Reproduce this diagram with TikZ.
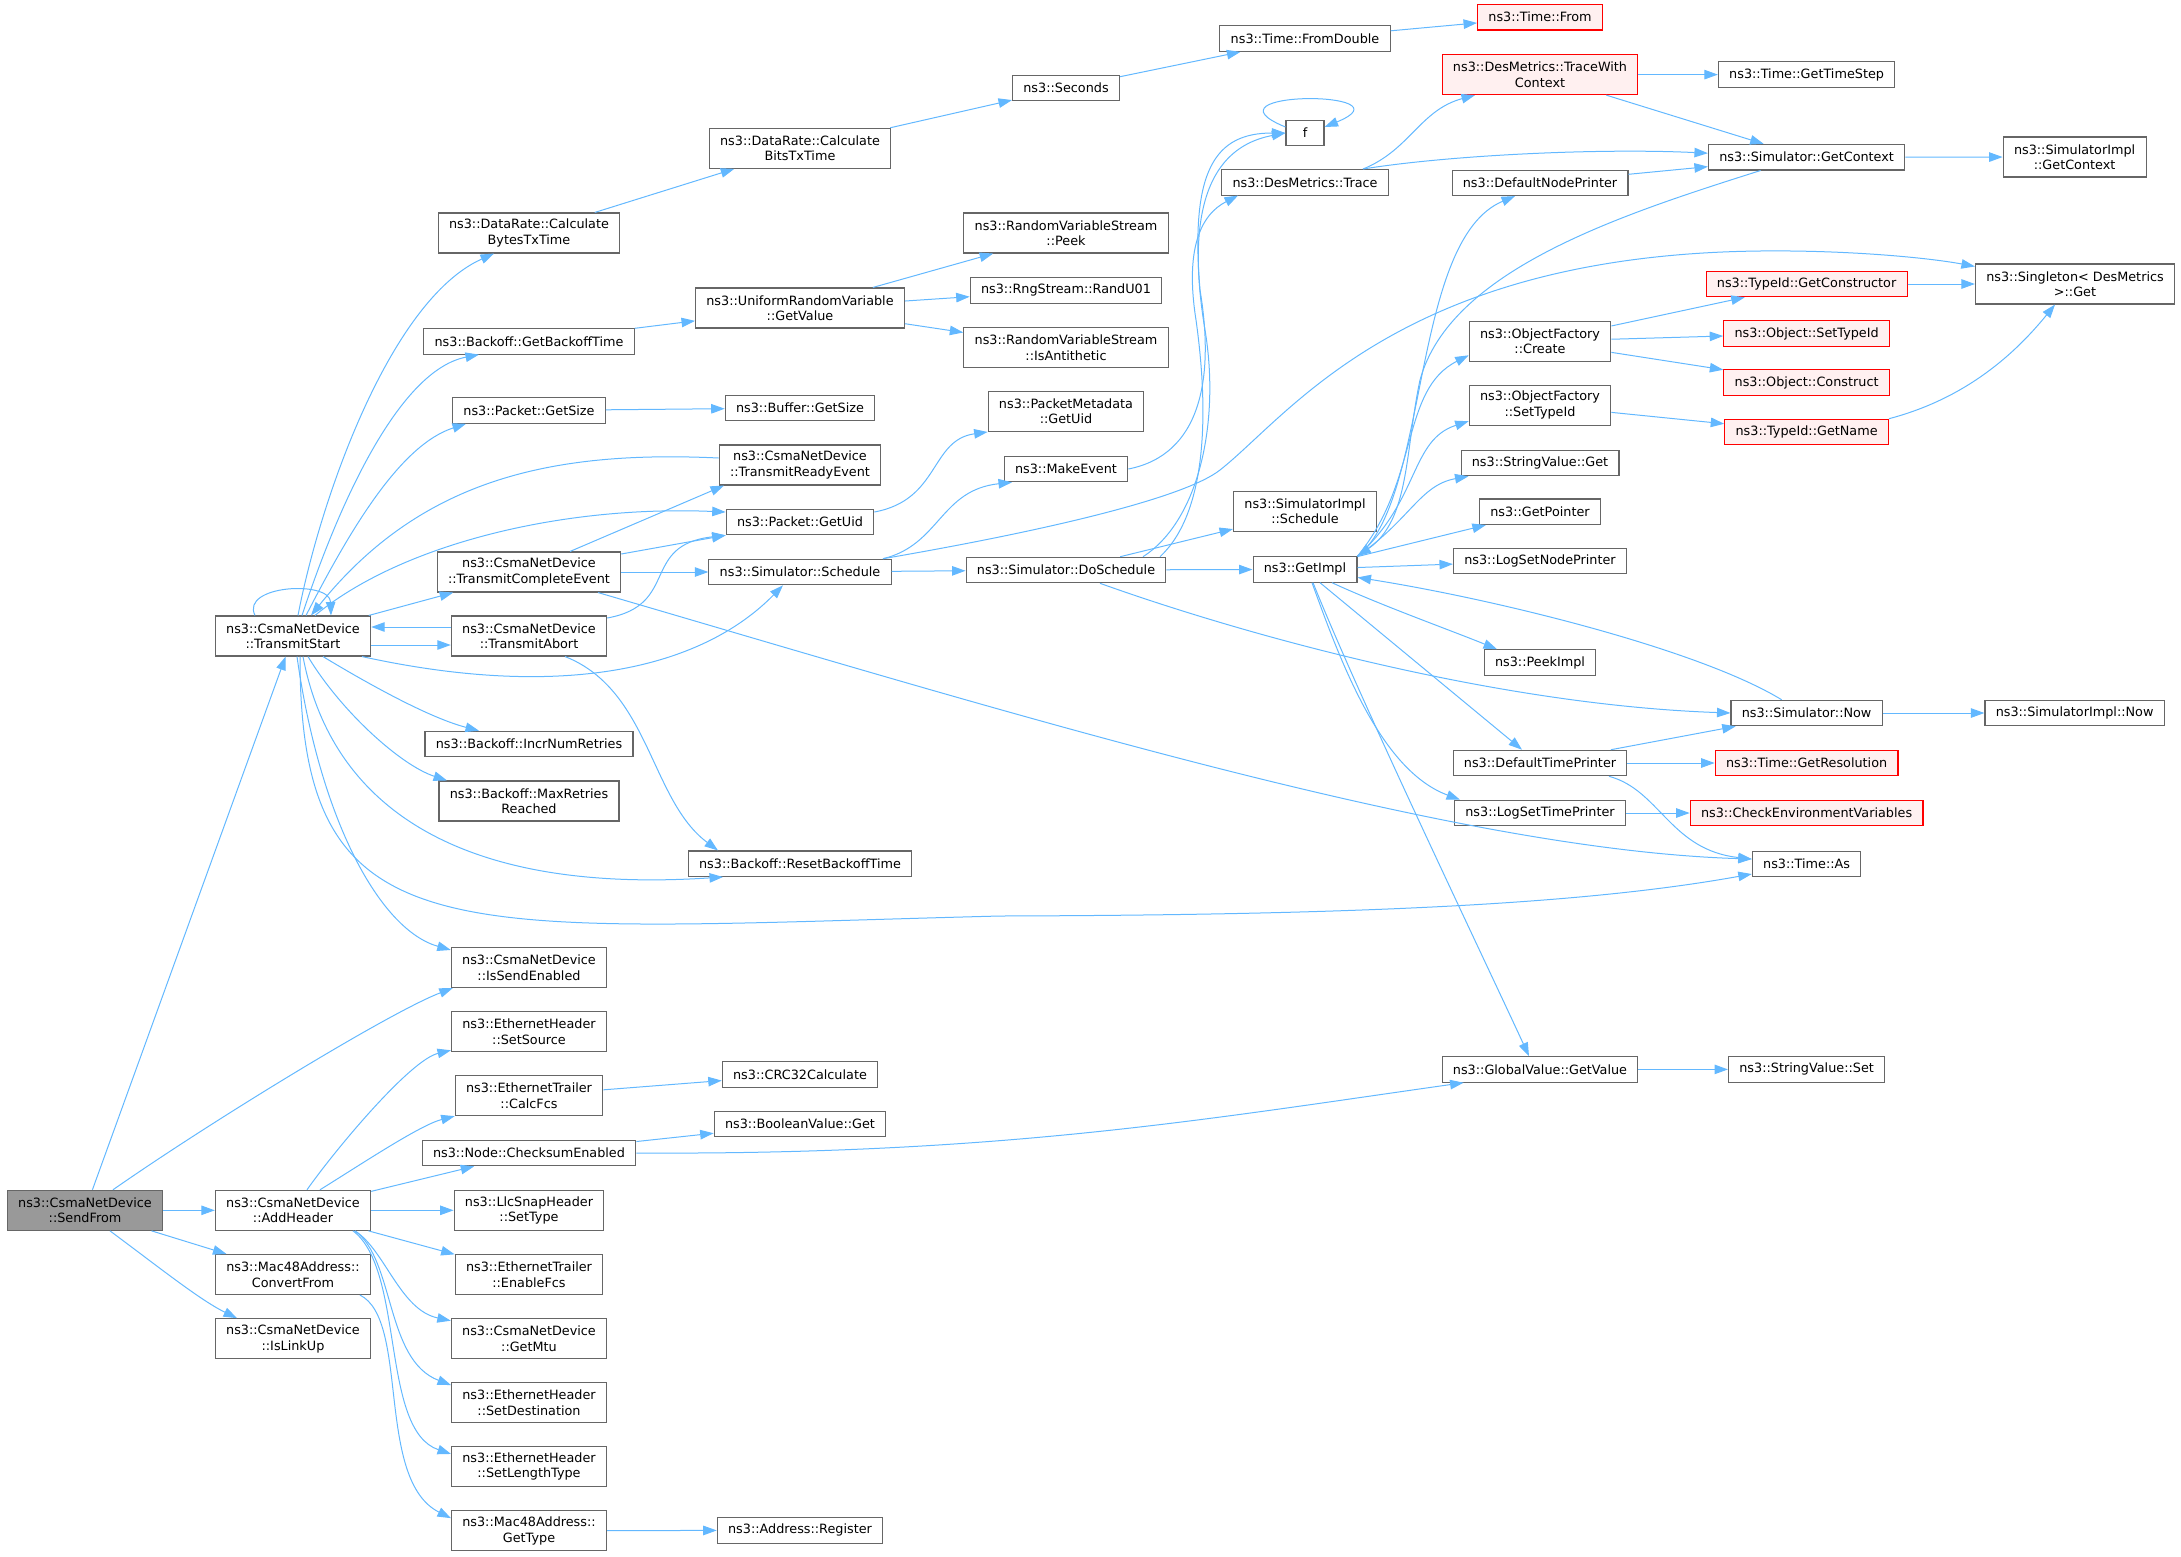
\documentclass[tikz,border=0pt]{standalone}
\usepackage{fontspec}
\setmainfont{DejaVu Sans}
\usetikzlibrary{arrows.meta}
\definecolor{edgeblue}{HTML}{63B8FF}
\definecolor{boxgray}{HTML}{666666}
\definecolor{rootgray}{HTML}{999999}
\definecolor{redfill}{HTML}{FFF0F0}
\newcommand{\callfont}{\fontsize{12.8}{15.5}\selectfont}
\tikzset{
>={Triangle[length=13.5pt,width=9.5pt]},
FN/.style ={draw=boxgray, fill=white, line width=1.1pt, font=\callfont, align=center, inner xsep=10.8pt, inner ysep=2pt, minimum height=25.5pt},
TWO/.style={minimum height=40pt},
ROOT/.style={fill=rootgray},
RED/.style={draw=red, fill=redfill},
CALL/.style={draw=edgeblue, line width=1pt, ->},
}
\begin{document}
\begin{tikzpicture}[x=1pt, y=-1pt] %call graph of SendFrom
	\useasboundingbox (0,0) rectangle (2181,1556);
	\node[FN,TWO,ROOT] (sendfrom) at (85,1210.3) {ns3::CsmaNetDevice\\::SendFrom};
	\node[FN,TWO] (tstart) at (293,636) {ns3::CsmaNetDevice\\::TransmitStart};
	\node[FN,TWO] (addhdr) at (293,1210.3) {ns3::CsmaNetDevice\\::AddHeader};
	\node[FN,TWO] (convfrom) at (293,1274.5) {ns3::Mac48Address::\\ConvertFrom};
	\node[FN,TWO] (linkup) at (293,1338.7) {ns3::CsmaNetDevice\\::IsLinkUp};
	\node[FN,TWO] (bytestx) at (529,233) {ns3::DataRate::Calculate\\BytesTxTime};
	\node[FN] (backofft) at (529,341.3) {ns3::Backoff::GetBackoffTime};
	\node[FN] (pktsize) at (529,410.5) {ns3::Packet::GetSize};
	\node[FN,TWO] (txcomplete) at (529,572) {ns3::CsmaNetDevice\\::TransmitCompleteEvent};
	\node[FN,TWO] (txabort) at (529,636) {ns3::CsmaNetDevice\\::TransmitAbort};
	\node[FN] (incr) at (529,744) {ns3::Backoff::IncrNumRetries};
	\node[FN,TWO] (maxretr) at (529,801) {ns3::Backoff::MaxRetries\\Reached};
	\node[FN,TWO] (sendok) at (529,967.5) {ns3::CsmaNetDevice\\::IsSendEnabled};
	\node[FN,TWO] (setsrc) at (529,1031.7) {ns3::EthernetHeader\\::SetSource};
	\node[FN,TWO] (calcfcs) at (529,1095.6) {ns3::EthernetTrailer\\::CalcFcs};
	\node[FN] (cksum) at (529,1153) {ns3::Node::ChecksumEnabled};
	\node[FN,TWO] (llctype) at (529,1210.3) {ns3::LlcSnapHeader\\::SetType};
	\node[FN,TWO] (enfcs) at (529,1274.5) {ns3::EthernetTrailer\\::EnableFcs};
	\node[FN,TWO] (getmtu) at (529,1338.7) {ns3::CsmaNetDevice\\::GetMtu};
	\node[FN,TWO] (setdst) at (529,1402.6) {ns3::EthernetHeader\\::SetDestination};
	\node[FN,TWO] (setlen) at (529,1466.5) {ns3::EthernetHeader\\::SetLengthType};
	\node[FN,TWO] (gettype) at (529,1530.7) {ns3::Mac48Address::\\GetType};
	\node[FN,TWO] (bitstx) at (800,148.3) {ns3::DataRate::Calculate\\BitsTxTime};
	\node[FN,TWO] (uniget) at (800,308) {ns3::UniformRandomVariable\\::GetValue};
	\node[FN] (bufsize) at (800,408) {ns3::Buffer::GetSize};
	\node[FN,TWO] (txready) at (800,465) {ns3::CsmaNetDevice\\::TransmitReadyEvent};
	\node[FN] (pktuid) at (800,522) {ns3::Packet::GetUid};
	\node[FN] (simsched) at (800,572) {ns3::Simulator::Schedule};
	\node[FN] (resetbo) at (800,863.7) {ns3::Backoff::ResetBackoffTime};
	\node[FN] (crc) at (800,1074.5) {ns3::CRC32Calculate};
	\node[FN] (boolget) at (800,1124) {ns3::BooleanValue::Get};
	\node[FN] (addrreg) at (800,1530.3) {ns3::Address::Register};
	\node[FN] (seconds) at (1066,87.8) {ns3::Seconds};
	\node[FN,TWO] (peek) at (1066,233) {ns3::RandomVariableStream\\::Peek};
	\node[FN] (randu) at (1066,290.3) {ns3::RngStream::RandU01};
	\node[FN,TWO] (antith) at (1066,347.8) {ns3::RandomVariableStream\\::IsAntithetic};
	\node[FN,TWO] (pmuid) at (1066,411.4) {ns3::PacketMetadata\\::GetUid};
	\node[FN] (mkevent) at (1066,469) {ns3::MakeEvent};
	\node[FN] (dosched) at (1066,570) {ns3::Simulator::DoSchedule};
	\node[FN] (fromdbl) at (1305,38.6) {ns3::Time::FromDouble};
	\node[FN,minimum width=38pt] (fbox) at (1305,133) {f};
	\node[FN] (trace) at (1305,182.3) {ns3::DesMetrics::Trace};
	\node[FN,TWO] (implsched) at (1305,511.4) {ns3::SimulatorImpl\\::Schedule};
	\node[FN] (getimpl) at (1305,569.4) {ns3::GetImpl};
	\node[FN,RED] (timefrom) at (1540,17.2) {ns3::Time::From};
	\node[FN,TWO,RED] (tracectx) at (1540,74.6) {ns3::DesMetrics::TraceWith\\Context};
	\node[FN] (nodeprn) at (1540,182.8) {ns3::DefaultNodePrinter};
	\node[FN,TWO] (ofcreate) at (1540,341.3) {ns3::ObjectFactory\\::Create};
	\node[FN,TWO] (ofsettid) at (1540,405.2) {ns3::ObjectFactory\\::SetTypeId};
	\node[FN] (strget) at (1540,463) {ns3::StringValue::Get};
	\node[FN] (getptr) at (1540,511.7) {ns3::GetPointer};
	\node[FN] (lognode) at (1540,561) {ns3::LogSetNodePrinter};
	\node[FN] (peekimpl) at (1540,662.5) {ns3::PeekImpl};
	\node[FN] (timeprn) at (1540,763) {ns3::DefaultTimePrinter};
	\node[FN] (logtime) at (1540,813) {ns3::LogSetTimePrinter};
	\node[FN] (gvget) at (1540,1069.4) {ns3::GlobalValue::GetValue};
	\node[FN] (timestep) at (1806.6,74.6) {ns3::Time::GetTimeStep};
	\node[FN] (getctx) at (1806.6,157.2) {ns3::Simulator::GetContext};
	\node[FN,RED] (getctor) at (1806.6,284) {ns3::TypeId::GetConstructor};
	\node[FN,RED] (objsettid) at (1806.6,333.6) {ns3::Object::SetTypeId};
	\node[FN,RED] (construct) at (1806.6,382.6) {ns3::Object::Construct};
	\node[FN,RED] (getname) at (1806.6,432) {ns3::TypeId::GetName};
	\node[FN] (simnow) at (1806.6,713) {ns3::Simulator::Now};
	\node[FN,RED] (getres) at (1806.6,763) {ns3::Time::GetResolution};
	\node[FN,RED] (checkenv) at (1806.6,813) {ns3::CheckEnvironmentVariables};
	\node[FN] (timeas) at (1806.6,864) {ns3::Time::As};
	\node[FN] (strset) at (1806.6,1069.4) {ns3::StringValue::Set};
	\node[FN,TWO] (implctx) at (2074.6,157) {ns3::SimulatorImpl\\::GetContext};
	\node[FN,TWO] (singleton) at (2075,284) {ns3::Singleton< DesMetrics\\>::Get};
	\node[FN] (implnow) at (2074.6,713) {ns3::SimulatorImpl::Now};
	% SendFrom and AddHeader
	\path[CALL] (sendfrom) -- (tstart);
	\path[CALL] ([xshift=28pt]sendfrom.north) .. controls (210,1122) and (390,1012) .. ([xshift=2pt]sendok.south west);
	\path[CALL] (sendfrom) -- (addhdr);
	\path[CALL] (sendfrom) -- (convfrom);
	\path[CALL] ([xshift=25pt]sendfrom.south) .. controls (160,1268) and (200,1300) .. ([xshift=-56pt]linkup.north);
	\path[CALL] ([xshift=14pt]addhdr.north) .. controls (335,1150) and (410,1060) .. ([yshift=2pt]setsrc.south west);
	\path[CALL] ([xshift=27pt]addhdr.north) .. controls (360,1165) and (420,1125) .. (calcfcs.south west);
	\path[CALL] (addhdr) -- (cksum);
	\path[CALL] (addhdr) -- (llctype);
	\path[CALL] (addhdr) -- (enfcs);
	\path[CALL] ([xshift=62pt]addhdr.south) .. controls (385,1250) and (400,1310) .. ([yshift=18pt]getmtu.west);
	\path[CALL] ([xshift=62pt]addhdr.south) .. controls (395,1260) and (385,1360) .. ([yshift=-3pt]setdst.north west);
	\path[CALL] ([xshift=60pt]addhdr.south) .. controls (405,1270) and (380,1430) .. ([yshift=-8pt]setlen.north west);
	\path[CALL] ([xshift=67pt]convfrom.south) .. controls (410,1320) and (375,1480) .. ([yshift=-8pt]gettype.north west);
	\path[CALL] (gettype) -- (addrreg);
	\path[CALL] (calcfcs) -- (crc);
	\path[CALL] (cksum) -- (boolget);
	\path[CALL] (cksum.east) .. controls (1000,1155) and (1200,1120) .. ([xshift=22pt]gvget.south west);
	% TransmitStart
	\path[CALL] ([xshift=-38pt]tstart.north) .. controls (240,585) and (330,580) .. ([xshift=38pt]tstart.north);
	\path[CALL] ([xshift=5pt]tstart.north) .. controls (320,500) and (390,300) .. ([xshift=-35pt]bytestx.south);
	\path[CALL] ([xshift=9pt]tstart.north) .. controls (340,500) and (400,370) .. ([xshift=-50pt]backofft.south);
	\path[CALL] ([xshift=13pt]tstart.north) .. controls (350,530) and (400,445) .. ([xshift=-63pt]pktsize.south);
	\path[CALL] ([xshift=22pt]tstart.north) .. controls (400,545) and (560,505) .. ([yshift=10pt]pktuid.west);
	\path[CALL] ([yshift=7pt]txready.west) .. controls (550,450) and (420,480) .. ([xshift=18pt]tstart.north);
	\path[CALL] (tstart) -- (txcomplete);
	\path[CALL] ([yshift=-9pt]tstart.east) -- ([yshift=-9pt]txabort.west);
	\path[CALL] ([yshift=9pt]txabort.west) -- ([yshift=9pt]tstart.east);
	\path[CALL] ([xshift=69pt]tstart.south) .. controls (560,700) and (700,670) .. ([xshift=-17pt]simsched.south);
	\path[CALL] ([xshift=30pt]tstart.south) .. controls (370,685) and (430,718) .. ([xshift=-50pt]incr.north);
	\path[CALL] ([xshift=15pt]tstart.south) .. controls (340,710) and (400,765) .. ([xshift=-82pt]maxretr.north);
	\path[CALL] ([xshift=10pt]tstart.south) .. controls (330,800) and (450,895) .. ([xshift=-77pt]resetbo.south);
	\path[CALL] ([xshift=7pt]tstart.south) .. controls (300,960) and (450,930) .. (1000,916) .. controls (1350,915) and (1580,905) .. ([yshift=-10pt]timeas.west);
	\path[CALL] ([xshift=4pt]tstart.south) .. controls (320,820) and (380,930) .. ([yshift=-3pt]sendok.north west);
	% TransmitCompleteEvent and TransmitAbort
	\path[CALL] ([xshift=41pt]txcomplete.north) -- ([xshift=-76pt]txready.south);
	\path[CALL] ([yshift=18pt]txcomplete.east) -- (pktuid.south west);
	\path[CALL] (txcomplete) -- (simsched);
	\path[CALL] ([xshift=69pt]txcomplete.south) .. controls (1000,710) and (1450,850) .. ([yshift=5pt]timeas.west);
	\path[CALL] ([yshift=18pt]txabort.east) .. controls (680,605) and (640,545) .. (pktuid.south west);
	\path[CALL] ([xshift=36pt]txabort.south) .. controls (650,690) and (650,800) .. ([xshift=-82pt]resetbo.north);
	% DataRate, Backoff, Packet, Simulator
	\path[CALL] (bytestx) -- (bitstx);
	\path[CALL] (bitstx) -- (seconds);
	\path[CALL] (seconds) -- (fromdbl);
	\path[CALL] (fromdbl) -- (timefrom);
	\path[CALL] (backofft) -- (uniget);
	\path[CALL] (uniget) -- (peek);
	\path[CALL] (uniget) -- (randu);
	\path[CALL] (uniget) -- (antith);
	\path[CALL] (pktsize) -- (bufsize);
	\path[CALL] ([yshift=10pt]pktuid.east) .. controls (940,500) and (930,440) .. (pmuid.south west);
	\path[CALL] ([xshift=83pt]simsched.north) .. controls (940,545) and (940,490) .. ([xshift=-54pt]mkevent.south);
	\path[CALL] (simsched) -- (dosched);
	\path[CALL] ([xshift=83pt]simsched.north) .. controls (1050,530) and (1185,497.5) .. (1220,470) .. controls (1290,415) and (1400,255) .. (1760,251) .. controls (1850,250) and (1930,258) .. ([yshift=-3pt]singleton.north west);
	\path[CALL] (mkevent.east) .. controls (1200,455) and (1215,380) .. (1200,290) .. controls (1190,170) and (1215,133) .. (fbox.west);
	\path[CALL] ([xshift=77pt]dosched.north) .. controls (1200,520) and (1220,420) .. (1205,330) .. controls (1190,240) and (1195,150) .. (fbox.west);
	\path[CALL] ([xshift=94pt]dosched.north) .. controls (1205,515) and (1210,420) .. (1196,320) .. controls (1185,250) and (1200,215) .. ([xshift=-67pt]trace.south);
	\path[CALL] (dosched) -- (implsched);
	\path[CALL] (dosched) -- (getimpl);
	\path[CALL] ([xshift=34pt]dosched.south) .. controls (1250,637) and (1500,705) .. (simnow.west);
	\path[CALL] ([yshift=6pt]fbox.west) .. controls (1195,90) and (1415,90) .. ([yshift=6pt]fbox.east);
	% DesMetrics and GetContext
	\path[CALL] ([xshift=58pt]trace.north) .. controls (1410,150) and (1420,110) .. ([xshift=-65pt]tracectx.south);
	\path[CALL] ([xshift=58pt]trace.north) .. controls (1450,155) and (1600,148) .. ([yshift=4pt]getctx.west);
	\path[CALL] (tracectx) -- (timestep);
	\path[CALL] (tracectx) -- (getctx);
	\path[CALL] (nodeprn) -- (getctx);
	\path[CALL] (getctx) -- (implctx);
	\path[CALL] ([xshift=-46pt]getctx.south) .. controls (1620,215) and (1450,270) .. (1420,380) .. controls (1405,450) and (1410,520) .. (getimpl.north east);
	% GetImpl
	\path[CALL] (getimpl.north east) .. controls (1430,500) and (1410,240) .. ([xshift=-25pt]nodeprn.south);
	\path[CALL] (getimpl.north east) .. controls (1420,480) and (1400,390) .. ([yshift=-14pt]ofcreate.west);
	\path[CALL] (getimpl.north east) .. controls (1420,500) and (1410,440) .. ([yshift=-16pt]ofsettid.west);
	\path[CALL] (getimpl.north east) .. controls (1410,520) and (1420,485) .. ([xshift=8pt]strget.south west);
	\path[CALL] (getimpl) -- (getptr);
	\path[CALL] (getimpl) -- (lognode);
	\path[CALL] ([xshift=27pt]getimpl.south) .. controls (1380,605) and (1450,630) .. ([xshift=-43pt]peekimpl.north);
	\path[CALL] ([xshift=15pt]getimpl.south) -- ([xshift=-18pt]timeprn.north);
	\path[CALL] ([xshift=7pt]getimpl.south) .. controls (1340,660) and (1380,770) .. ([xshift=-80pt]logtime.north);
	\path[CALL] ([xshift=8pt]getimpl.south) .. controls (1360,700) and (1480,950) .. ([xshift=-11pt]gvget.north);
	\path[CALL] ([xshift=-25pt]simnow.north) .. controls (1700,650) and (1500,600) .. ([yshift=-8pt]getimpl.east);
	% right side
	\path[CALL] (simnow) -- (implnow);
	\path[CALL] (timeprn) -- (simnow);
	\path[CALL] (timeprn) -- (getres);
	\path[CALL] ([xshift=69pt]timeprn.south) .. controls (1660,790) and (1670,850) .. ([yshift=5pt]timeas.west);
	\path[CALL] (logtime) -- (checkenv);
	\path[CALL] (ofcreate) -- (getctor);
	\path[CALL] (ofcreate) -- (objsettid);
	\path[CALL] (ofcreate) -- (construct);
	\path[CALL] (ofsettid) -- (getname);
	\path[CALL] (getctor) -- (singleton);
	\path[CALL] (getname.north east) .. controls (1960,400) and (2010,360) .. ([xshift=-20pt]singleton.south);
	\path[CALL] (gvget) -- (strset);
\end{tikzpicture}
\end{document}
